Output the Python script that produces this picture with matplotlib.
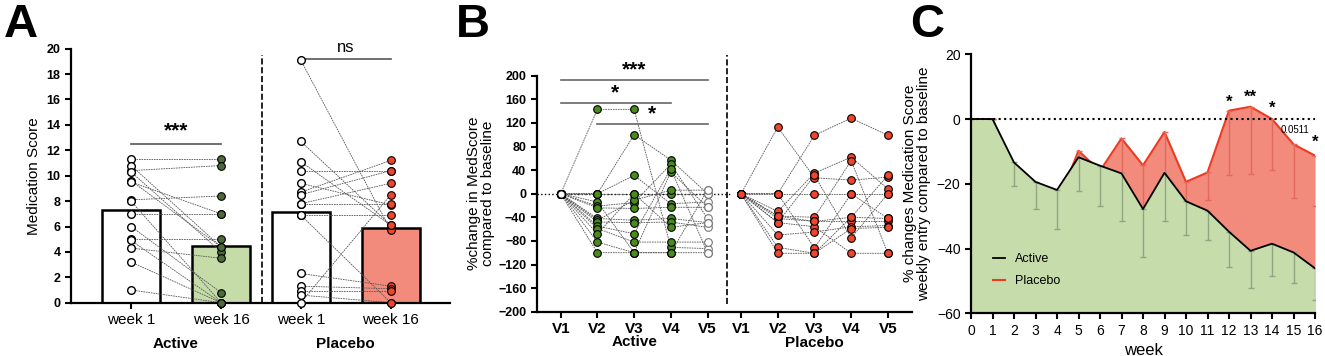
import matplotlib
matplotlib.use("Agg")
import matplotlib.pyplot as plt
import numpy as np

plt.rcParams['font.family'] = ['Liberation Sans', 'DejaVu Sans']

# ---- panel A data: medication score, paired week 1 -> week 16
active_w1 = [11.3, 10.4, 10.8, 10.3, 9.6, 9.5, 8.1, 8.0, 7.0, 6.0, 5.0, 4.9, 4.3, 3.2, 1.0]
active_w16 = [11.3, 10.8, 4.4, 4.0, 4.4, 7.0, 8.4, 0.0, 7.0, 0.8, 5.0, 0.0, 3.5, 0.0, 0.0]
placebo_w1 = [19.1, 12.7, 11.1, 10.4, 9.4, 8.7, 8.5, 7.8, 7.8, 6.9, 6.9, 2.3, 1.3, 0.9, 0.0, 0.6]
placebo_w16 = [5.7, 6.1, 6.1, 10.4, 7.7, 11.2, 10.4, 9.4, 7.8, 6.9, 0.0, 1.3, 1.1, 0.9, 8.5, 0.0]
a_ticklabels = ['week 1', 'week 16', 'week 1', 'week 16']

# ---- panel B data: % change in MedScore, visits V1..V5
visits = ['V1', 'V2', 'V3', 'V4', 'V5']
active_pct = [
    [0, 143, 143, -91, -93],
    [0, 0, 100, 57, 0],
    [0, 0, 31, -17, -14],
    [0, 0, 0, 0, 0],
    [0, -14, -100, 37, -23],
    [0, -21, -15, 50, -42],
    [0, -24, -25, -23, -23],
    [0, -42, -45, -42, -49],
    [0, -45, -11, 6, 6],
    [0, -48, -49, -48, -57],
    [0, -55, -68, 42, -100],
    [0, -59, -82, -82, -82],
    [0, -68, 0, -57, -49],
    [0, -82, -100, -100, 6],
    [0, -100, -100, -100, -100],
]
placebo_pct = [
    [0, 113, 27, 23, 28],
    [0, 0, 99, 128, 99],
    [0, 0, 0, 0, 0],
    [0, 0, -92, 0, -42],
    [0, -30, 35, 62, 8],
    [0, -38, -40, 56, -101],
    [0, -42, -47, -47, -47],
    [0, -49, -56, -101, -101],
    [0, -70, -65, -56, -54],
    [0, -91, -101, -40, 31],
    [0, -101, -101, -59, -57],
    [0, -49, 31, -75, 0],
    [0, -38, -47, -40, -42],
]

# ---- panel C data: weekly % change (mean and lower SD bound)
weeks = list(range(17))
active_mean = [0, 0, -13.4, -19.4, -21.9, -11.8, -14.4, -16.8, -27.8, -16.6, -25.4, -28.3, -34.8, -40.7, -38.5, -41.2, -46.1]
active_low = [0, 0, -20.6, -27.9, -34.1, -22.1, -26.8, -31.4, -42.6, -31.5, -35.9, -37.4, -45.6, -52.1, -48.5, -50.5, -55.9]
placebo_mean = [0, 0, -15.0, -21.0, -26.5, -9.8, -16.0, -6.0, -14.3, -4.0, -19.4, -16.5, 2.6, 3.8, 0.0, -7.8, -11.3]
placebo_low = [0, 0, -25.0, -30.0, -38.0, -24.0, -28.0, -22.0, -30.0, -20.0, -33.0, -25.0, -17.3, -17.0, -15.6, -24.3, -26.9]

green_bar = '#c5dca9'
green_dark = '#4d6b38'
green_b = '#4a8c1c'
red_bar = '#f28b7c'
red_dot = '#f0442c'
red_line = '#ee3a22'
line_gray = '#555555'

W, H = 1325, 356
fig = plt.figure(figsize=(W / 100, H / 100), dpi=100)

def px_axes(x0, x1, y0, y1):
    return fig.add_axes([x0 / W, 1 - y1 / H, (x1 - x0) / W, (y1 - y0) / H])

def style(ax):
    for s in ['top', 'right']:
        ax.spines[s].set_visible(False)
    for s in ['left', 'bottom']:
        ax.spines[s].set_linewidth(1.6)
    ax.tick_params(width=1.5, length=4)

# ================= panel A =================
axA = px_axes(71, 450, 48.7, 302.7)
style(axA)
posA = [0, 1, 1.886, 2.886]
means = [np.mean(active_w1), np.mean(active_w16), np.mean(placebo_w1), np.mean(placebo_w16)]
fills = ['white', green_bar, 'white', red_bar]
axA.bar(posA, means, width=0.648, color=fills, edgecolor='black', linewidth=1.8, zorder=1)
for a, b in zip(active_w1, active_w16):
    axA.plot([posA[0], posA[1]], [a, b], ls=(0, (2, 1)), color=line_gray, lw=0.6, zorder=2)
for a, b in zip(placebo_w1, placebo_w16):
    axA.plot([posA[2], posA[3]], [a, b], ls=(0, (2, 1)), color=line_gray, lw=0.6, zorder=2)
ms = 5.5
axA.plot([posA[0]] * len(active_w1), active_w1, 'o', mfc='white', mec='black', ms=ms, mew=1, zorder=3, clip_on=False)
axA.plot([posA[1]] * len(active_w16), active_w16, 'o', mfc=green_dark, mec='black', ms=ms, mew=0.8, zorder=3, clip_on=False)
axA.plot([posA[2]] * len(placebo_w1), placebo_w1, 'o', mfc='white', mec='black', ms=ms, mew=1, zorder=3, clip_on=False)
axA.plot([posA[3]] * len(placebo_w16), placebo_w16, 'o', mfc=red_dot, mec='black', ms=ms, mew=0.8, zorder=3, clip_on=False)
axA.set_xlim(-0.667, 3.544)
axA.set_ylim(0, 20)
axA.set_yticks(range(0, 21, 2))
axA.set_xticks(posA)
axA.set_xticklabels(a_ticklabels, fontsize=11)
for t in axA.get_yticklabels():
    t.set_fontweight('bold')
    t.set_fontsize(9)
axA.set_ylabel('Medication Score', fontsize=11, labelpad=4)
axA.plot([1.459, 1.459], [0, 19.5], ls='--', color='black', lw=1.2, clip_on=False)
axA.plot([0, 1], [12.47, 12.47], color=line_gray, lw=1.2)
axA.text(0.5, 12.8, '***', ha='center', va='bottom', fontsize=15, fontweight='bold')
axA.plot([1.886, 2.886], [19.16, 19.16], color=line_gray, lw=1.2, clip_on=False)
axA.text(2.386, 19.5, 'ns', ha='center', va='bottom', fontsize=12)
axA.text(0.5, -0.135, 'Active', transform=axA.get_xaxis_transform(), ha='center', va='top', fontsize=11, fontweight='bold')
axA.text(2.386, -0.135, 'Placebo', transform=axA.get_xaxis_transform(), ha='center', va='top', fontsize=11, fontweight='bold')

# ================= panel B =================
axB = px_axes(536.7, 912, 75.7, 311.7)
style(axB)
xa = np.arange(5)
xp = np.arange(5) + 4.913
axB.plot([-0.65, 4.6], [0, 0], ls=':', color='black', lw=1, zorder=1)
for row in active_pct:
    axB.plot(xa, row, ls=(0, (2, 1)), color=line_gray, lw=0.6, zorder=2)
for row in placebo_pct:
    axB.plot(xp, row, ls=(0, (2, 1)), color=line_gray, lw=0.6, zorder=2)
act = np.array(active_pct)
plc = np.array(placebo_pct)
axB.plot(np.zeros(len(act)), act[:, 0], 'o', mfc='white', mec='black', ms=5.5, mew=1, zorder=3)
for j in range(1, 4):
    axB.plot(np.full(len(act), xa[j]), act[:, j], 'o', mfc=green_b, mec='black', ms=5.5, mew=0.8, zorder=3)
axB.plot(np.full(len(act), xa[4]), act[:, 4], 'o', mfc='white', mec='#777777', ms=5.5, mew=0.8, zorder=3)
for j in range(5):
    axB.plot(np.full(len(plc), xp[j]), plc[:, j], 'o', mfc=red_dot, mec='black', ms=5.5, mew=0.8, zorder=3)
axB.set_xlim(-0.654, 9.57)
axB.set_ylim(-200, 200)
axB.set_yticks(range(-200, 201, 40))
axB.set_xticks(list(xa) + list(xp))
axB.set_xticklabels(visits + visits, fontsize=11, fontweight='bold')
for t in axB.get_yticklabels():
    t.set_fontweight('bold')
    t.set_fontsize(9)
axB.set_ylabel('%change in MedScore\ncompared to baseline', fontsize=11, labelpad=2, linespacing=1.0)
axB.plot([4.54, 4.54], [-187, 235], ls='--', color='black', lw=1.2, clip_on=False)
sig_color = '#666666'
axB.plot([0, 4], [192, 192], color=sig_color, lw=1.2)
axB.text(2, 194, '***', ha='center', va='bottom', fontsize=15, fontweight='bold')
axB.plot([0, 3], [153, 153], color=sig_color, lw=1.2)
axB.text(1.48, 155, '*', ha='center', va='bottom', fontsize=15, fontweight='bold')
axB.plot([1, 4], [118, 118], color=sig_color, lw=1.2)
axB.text(2.48, 120, '*', ha='center', va='bottom', fontsize=15, fontweight='bold')
axB.text(2, -0.10, 'Active', transform=axB.get_xaxis_transform(), ha='center', va='top', fontsize=11, fontweight='bold')
axB.text(xp[2], -0.105, 'Placebo', transform=axB.get_xaxis_transform(), ha='center', va='top', fontsize=11, fontweight='bold')

# ================= panel C =================
axC = px_axes(971, 1315, 54.3, 313.3)
style(axC)
pl = np.array(placebo_mean)
ac = np.array(active_mean)
axC.fill_between(weeks, pl, -60, color=red_bar, lw=0, zorder=1)
lp, = axC.plot(weeks, pl, color=red_line, lw=1.5, zorder=1.5, label='Placebo')
axC.errorbar(weeks, pl, yerr=[pl - np.array(placebo_low), np.zeros(17)], fmt='none',
             ecolor='#e2695b', elinewidth=1, capsize=2, zorder=1.8)
axC.fill_between(weeks, ac, -60, color='#c6dcab', lw=0, zorder=2)
la, = axC.plot(weeks, ac, color='black', lw=1.3, zorder=3, label='Active')
axC.errorbar(weeks, ac, yerr=[ac - np.array(active_low), np.zeros(17)], fmt='none',
             ecolor='#8fa683', elinewidth=1, capsize=2, zorder=2.5)
axC.axhline(0, ls=':', color='black', lw=1.5, zorder=4)
axC.set_xlim(0, 16)
axC.set_ylim(-60, 20)
axC.set_xticks(weeks)
axC.set_yticks([-60, -40, -20, 0, 20])
axC.tick_params(labelsize=10)
axC.set_xlabel('week', fontsize=12, labelpad=4)
axC.set_ylabel('% changes Medication Score\nweekly entry compared to baseline', fontsize=11, labelpad=4, linespacing=1.0)
axC.text(12, 2.8, '*', ha='center', va='bottom', fontsize=12, fontweight='bold')
axC.text(13, 4.4, '**', ha='center', va='bottom', fontsize=12, fontweight='bold')
axC.text(14, 1.0, '*', ha='center', va='bottom', fontsize=12, fontweight='bold')
axC.text(15.05, -3.4, '0.0511', ha='center', va='center', fontsize=7)
axC.text(16, -9.5, '*', ha='center', va='bottom', fontsize=12, fontweight='bold', clip_on=False)
axC.legend(handles=[la, lp], loc='center left', bbox_to_anchor=(0.03, 0.167), frameon=False,
           fontsize=9, handlelength=1.0, labelspacing=0.8)

# panel letters
for x, lab in [(4, 'A'), (456, 'B'), (910, 'C')]:
    fig.text(x / W, 1 - 3 / H, lab, fontsize=34, fontweight='bold', ha='left', va='top')

fig.savefig('out.png', dpi=100)
